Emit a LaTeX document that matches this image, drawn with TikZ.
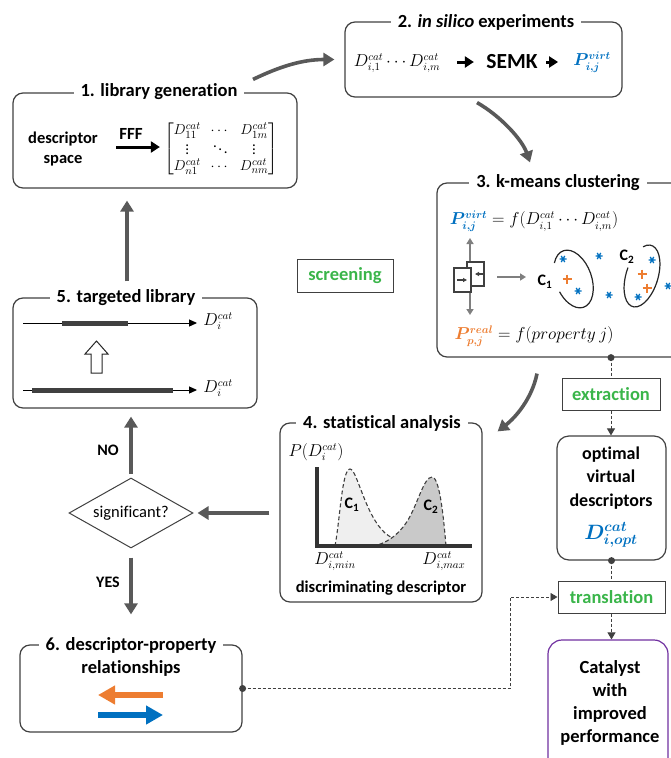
\documentclass[tikz,border=0pt]{standalone}
\usepackage{amsmath}
\usepackage{bm}
\usepackage{fontspec}
\setmainfont{Carlito}[Ligatures={TeX,NoCommon}]
\usetikzlibrary{arrows.meta,shapes.geometric,calc}

\definecolor{cblue}{HTML}{0070C0}
\definecolor{corange}{HTML}{ED7D31}
\definecolor{cgreen}{HTML}{3AB54A}
\definecolor{cpurple}{HTML}{7030A0}
\definecolor{flowgray}{HTML}{595959}
\definecolor{icongray}{HTML}{7F7F7F}
\definecolor{edge}{HTML}{404040}
\definecolor{fillone}{HTML}{EFEFEF}
\definecolor{filltwo}{HTML}{C9C9C9}

\newcommand\fsz[2]{\fontsize{#1}{#2}\selectfont}

\tikzset{
  panel/.style={draw=edge, line width=1.2pt, rounded corners=10pt, inner sep=0pt},
  ptitle/.style={fill=white, inner xsep=7pt, inner ysep=1pt, font=\bfseries\fsz{18.5}{22}},
  flow/.style={draw=flowgray, line width=3.6pt, -{Triangle[length=11pt,width=13pt]}},
  tagbox/.style={draw=edge, line width=1pt, font=\bfseries\fsz{18.5}{22}, text=cgreen, inner sep=0pt},
  link/.style={draw=edge, line width=0.9pt, dash pattern=on 3pt off 2pt},
  linkarrow/.style={link, -{Triangle[length=7pt,width=8pt]}},
  blackarrow/.style={draw=black, line width=3pt, -{Triangle[length=9pt,width=11pt]}},
  thinarrow/.style={draw=black, line width=1pt, -{Triangle[length=8pt,width=7pt]}},
  bar/.style={draw=edge, line width=5pt},
  mathtxt/.style={font=\fsz{16}{19}, inner sep=1pt},
  boldtxt/.style={font=\bfseries\fsz{16.5}{19.5}, inner sep=1pt},
  iconarrow/.style={draw=icongray, line width=1.8pt},
  dashcurve/.style={draw=edge, line width=1.1pt, dash pattern=on 4pt off 2.5pt},
  clusterline/.style={draw=black!85, line width=1.2pt},
}

\begin{document}
\begin{tikzpicture}[x=1pt, y=-1pt]
\useasboundingbox (0,0) rectangle (671,758);
\clip (0,0) rectangle (671,758);

% ---------- panels ----------
\node[panel, minimum width=284pt, minimum height=95pt]  (b1) at (155,140.5) {};
\node[panel, minimum width=277pt, minimum height=75pt]  (b2) at (483.5,59.5) {};
\node[panel, minimum width=263pt, minimum height=174pt] (b3) at (568.5,270) {};
\node[panel, minimum width=202pt, minimum height=179pt] (b4) at (381,512.5) {};
\node[panel, minimum width=244pt, minimum height=110pt] (b5) at (135,353) {};
\node[panel, minimum width=222pt, minimum height=87pt]  (b6) at (131,688.5) {};
\node[panel, minimum width=109pt, minimum height=124pt, rounded corners=12pt] (bopt) at (611.5,498) {};
\node[panel, draw=cpurple, minimum width=120pt, minimum height=150pt, rounded corners=14pt] (bcat) at (608,715) {};

\node[ptitle] (t1) at (159,92) {1. library generation};
\node[ptitle] (t2) at (486,22) {2. \textit{in silico} experiments};
\node[ptitle] (t3) at (558,183) {3. k-means clustering};
\node[ptitle] (t4) at (382,423) {4. statistical analysis};
\node[ptitle] (t5) at (126,298) {5. targeted library};
\node[ptitle] (t6) at (131,645) {6. descriptor-property};
\node[font=\bfseries\fsz{18.5}{22}, inner sep=1pt] (t6b) at (131,668) {relationships};

% ---------- green tags ----------
\node[tagbox, minimum width=96pt, minimum height=33pt] (bscr) at (345,275.5) {screening};
\node[tagbox, minimum width=98pt, minimum height=32pt] (bext) at (611,394) {extraction};
\node[tagbox, minimum width=107pt, minimum height=32pt] (btr) at (611.5,597) {translation};

% ---------- decision ----------
\node[diamond, draw=edge, line width=1pt, aspect=1.75, minimum width=124pt,
      minimum height=70pt, inner sep=0pt, font=\fsz{16.5}{20}] (dec) at (131,513) {significant?};
\node[font=\bfseries\fsz{16}{19}] (no) at (108,450) {NO};
\node[font=\bfseries\fsz{16}{19}] (yes) at (108,582) {YES};

% ---------- panel 1: library generation ----------
\node[boldtxt, align=center] (ds) at (63,149) {descriptor\\space};
\node[font=\bfseries\fsz{17}{20}] (fff) at (131,134) {FFF};
\node[font=\fsz{15}{18}, inner sep=1pt] (mat) at (221,149)
  {\renewcommand{\arraystretch}{0.9}$\begin{bmatrix}
    D^{cat}_{11} & \cdots & D^{cat}_{1m}\\[-1pt]
    \vdots & \ddots & \vdots\\[-1pt]
    D^{cat}_{n1} & \cdots & D^{cat}_{nm}
  \end{bmatrix}$};
\draw[blackarrow, shorten <=17pt, shorten >=3pt] (ds.east |- 0,147) -- (mat.west |- 0,147);

% ---------- panel 2: in silico experiments ----------
\node[mathtxt] (din) at (397,63) {$D^{cat}_{i,1}\cdots D^{cat}_{i,m}$};
\node[font=\bfseries\fsz{21.5}{24}] (semk) at (512,62) {SEMK};
\node[mathtxt, text=cblue] (pv) at (592,62) {$\bm{P^{virt}_{i,j}}$};
\draw[blackarrow, shorten <=16pt, shorten >=9pt] (din.east |- semk) -- (semk.west);
\draw[blackarrow, shorten <=5pt, shorten >=14pt] (semk.east) -- (pv.west |- semk);

% ---------- panel 3: k-means clustering ----------
\node[mathtxt] (pveq) at (534,221)
  {$\color{cblue}\bm{P^{virt}_{i,j}}\color{black} = f(D^{cat}_{i,1}\cdots D^{cat}_{i,m})$};
\node[mathtxt] (preq) at (534,336)
  {$\color{corange}\bm{P^{real}_{p,j}}\color{black} = f(property\ j)$};

% sorting icon
\draw[iconarrow, {Triangle[length=6pt,width=7pt]}-{Triangle[length=6pt,width=7pt]}] (470,238) -- (470,315);
\draw[draw=edge, line width=1.4pt, fill=white] (467,262) rectangle (484,286);
\draw[draw=edge, line width=1.4pt, fill=white] (454,268) rectangle (471,292);
\draw[draw=edge, line width=1.1pt, -{Triangle[length=4pt,width=4pt]}] (457,280) -- (467,280);
\draw[draw=edge, line width=1.1pt, -{Triangle[length=4pt,width=4pt]}] (483,274) -- (475,274);
\draw[iconarrow, -{Triangle[length=6pt,width=7pt]}] (497,277) -- (526,277);

% clusters: open ellipses around the two groups
\node[font=\bfseries\fsz{16}{19}, inner sep=0pt] (c1) at (545,282) {C\textsubscript{1}};
\node[font=\bfseries\fsz{16}{19}, inner sep=0pt] (c2) at (627,257) {C\textsubscript{2}};
\begin{scope}[shift={(573.5,279)}, rotate=-70]
  \draw[clusterline] ({30*cos(136)},{18*sin(136)}) arc[start angle=136, end angle=436, x radius=30, y radius=18];
\end{scope}
\begin{scope}[shift={(642,276)}, rotate=-107]
  \draw[clusterline] ({32*cos(152)},{16*sin(152)}) arc[start angle=152, end angle=457, x radius=32, y radius=16];
\end{scope}
\foreach \px/\py in {563/259,599/256,578/291,609/295,652/260,638/297,668/286}{
  \draw[cblue, line width=1.3pt, shift={(\px,\py)}]
    (-3.5,0) -- (3.5,0) (-1.75,-3.03) -- (1.75,3.03) (-1.75,3.03) -- (1.75,-3.03);
}
\foreach \px/\py in {567/279,642/274,647/288}{
  \draw[corange, line width=1.6pt, shift={(\px,\py)}] (-4.5,0) -- (4.5,0) (0,-4.5) -- (0,4.5);
}

% ---------- panel 4: statistical analysis ----------
\node[mathtxt] (py) at (316,452) {$P(D^{cat}_{i})$};
\draw[dashcurve, fill=fillone] (335,546) .. controls (340,520) and (342,469) .. (350,469)
  .. controls (357,469) and (365,515) .. (385,533)
  .. controls (395,541) and (405,545) .. (418,546);
\draw[dashcurve, fill=filltwo] (373,546) .. controls (385,544) and (398,536) .. (408,520)
  .. controls (418,503) and (424,477) .. (432,477)
  .. controls (439,477) and (443,510) .. (446,546);
\draw[draw=black!80, line width=4pt] (317,467) -- (317,546) -- (472,546);
\node[font=\bfseries\fsz{16}{19}, inner sep=0pt] (g1) at (352,505) {C\textsubscript{1}};
\node[font=\bfseries\fsz{16}{19}, inner sep=0pt] (g2) at (431,507) {C\textsubscript{2}};
\node[mathtxt] (dmin) at (335,561) {$D^{cat}_{i,min}$};
\node[mathtxt] (dmax) at (444,561) {$D^{cat}_{i,max}$};
\node[boldtxt] (disc) at (381,588) {discriminating descriptor};

% ---------- panel 5: targeted library ----------
\node[mathtxt] (dt1) at (218,321) {$D^{cat}_{i}$};
\node[mathtxt] (dt2) at (218,388) {$D^{cat}_{i}$};
\coordinate (l1) at (23,323);
\coordinate (l2) at (23,390);
\draw[thinarrow, shorten >=5pt] (l1) -- (dt1.west |- l1);
\draw[bar] (62,323) -- (128,323);
\draw[thinarrow, shorten >=5pt] (l2) -- (dt2.west |- l2);
\draw[bar] (32,390) -- (173,390);
\draw[draw=black!85, line width=1pt, fill=white]
  (96.5,341) -- (108,354) -- (102,354) -- (102,373) -- (91,373) -- (91,354) -- (85,354) -- cycle;

% ---------- panel 6: descriptor-property relationships ----------
\draw[corange, line width=6.5pt, -{Triangle[length=17pt,width=18pt]}] (163,695) -- (98,695);
\draw[cblue, line width=6.5pt, -{Triangle[length=17pt,width=18pt]}] (98,715) -- (163,715);

% ---------- right column ----------
\node[font=\bfseries\fsz{18}{23.5}, align=center, inner sep=0pt] (optxt) at (611,478)
  {optimal\\virtual\\descriptors};
\node[font=\fsz{21}{24}, text=cblue, inner sep=0pt] (dopt) at (611,535) {$\bm{D^{cat}_{i,opt}}$};
\node[font=\bfseries\fsz{18.5}{23.3}, align=center, inner sep=0pt] (cattxt) at (610,703)
  {Catalyst\\with\\improved\\performance};

% ---------- main cycle arrows ----------
\coordinate (a1s) at ($(b1.north)+(98,-13)$);
\coordinate (a1e) at ($(b2.west)+(-10,0)$);
\draw[flow] (a1s) .. controls ($(a1s)+(27,-13)$) and ($(a1e)+(-32,0)$) .. (a1e);
\coordinate (a2s) at ($(b2.south)+(-6.5,5)$);
\coordinate (a2e) at ($(b3.north)+(-38.5,-20)$);
\draw[flow] (a2s) .. controls ($(a2s)+(23,13)$) and ($(a2e)+(-8,-23)$) .. (a2e);
\coordinate (a3s) at ($(b3.south)+(-31.5,16)$);
\coordinate (a3e) at ($(b4.north east)+(15,9)$);
\draw[flow] (a3s) .. controls ($(a3s)+(-5,25)$) and ($(a3e)+(18,-14)$) .. (a3e);
\draw[flow, shorten <=10pt, shorten >=4pt] (b4.west |- dec) -- (dec.east);
\draw[flow, shorten <=4pt, shorten >=8pt] (dec.north) -- (dec.north |- b5.south);
\draw[flow, shorten <=9pt, shorten >=30pt] (dec.south) -- (dec.south |- b6.north);
\coordinate (a5s) at ($(b5.north)+(-8,-16)$);
\draw[flow, shorten >=12pt] (a5s) -- (a5s |- b1.south);

% ---------- dashed links ----------
\coordinate (d3) at (bext |- b3.south);
\coordinate (d6) at (b6.east);
\draw[link] (d3) -- (bext.north);
\draw[linkarrow] (bext.south) -- (bopt.north -| bext);
\draw[link] (bopt.south) -- (btr.north -| bopt.south);
\draw[linkarrow] (btr.south -| bopt.south) -- (bopt.south |- bcat.north);
\draw[linkarrow] (d6) -| ($(btr.west)+(-47,0)$) -- (btr.west);
\fill[edge] (d3) circle (3.5);
\fill[edge] (bopt.south) circle (3.5);
\fill[edge] (d6) circle (3.5);
\end{tikzpicture}
\end{document}
